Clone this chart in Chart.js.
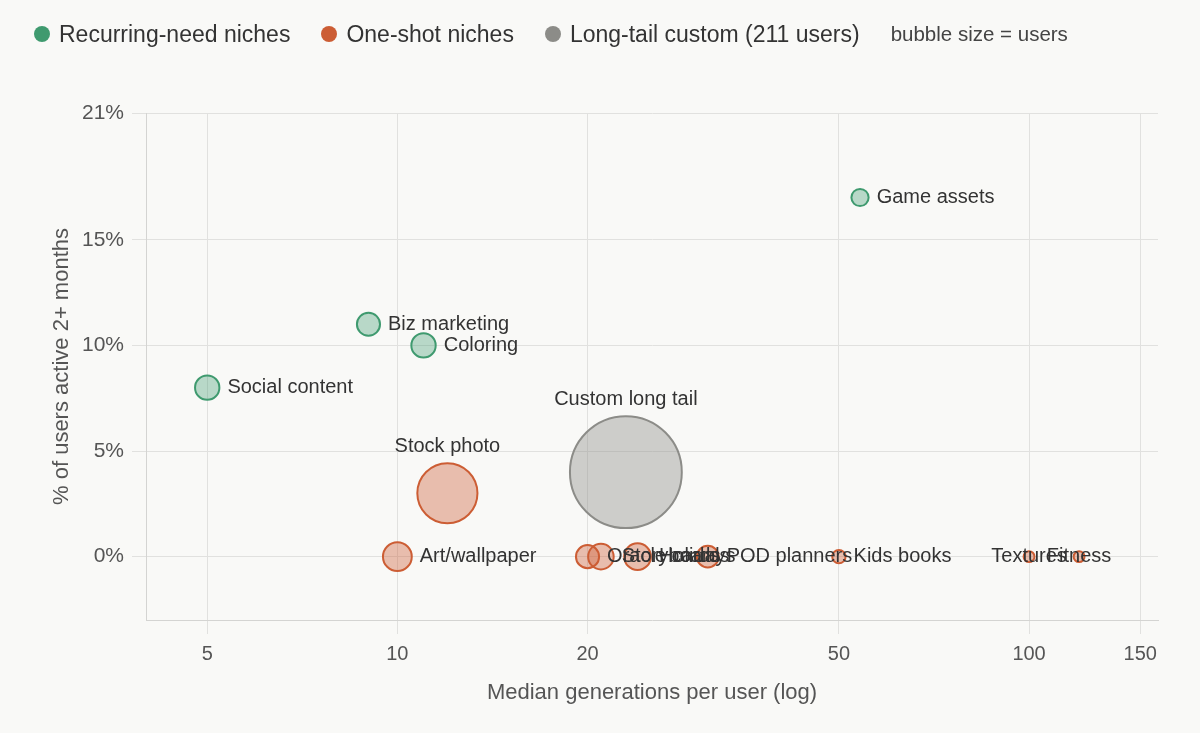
<!DOCTYPE html>
<html><head><meta charset="utf-8">
<script src="https://cdn.jsdelivr.net/npm/chart.js@4.4.1/dist/chart.umd.min.js"></script>
<style>
html,body{margin:0;padding:0;background:#f9f9f7;}
body{width:1200px;height:733px;position:relative;overflow:hidden;font-family:"Liberation Sans",Arial,sans-serif;}
#legend{position:absolute;left:34px;top:0;height:68px;display:flex;align-items:center;gap:31px;color:#333;z-index:2;}
.item{display:flex;align-items:center;font-size:23px;white-space:nowrap;}
.dot{width:16px;height:16px;border-radius:50%;margin-right:9px;}
.note{font-size:20.5px;color:#444;white-space:nowrap;}
#c{position:absolute;left:0;top:0;}
</style></head>
<body>
<div id="legend">
  <div class="item"><span class="dot" style="background:#3f9a6f"></span><span id="l0"></span></div>
  <div class="item"><span class="dot" style="background:#cc5d34"></span><span id="l1"></span></div>
  <div class="item"><span class="dot" style="background:#8c8c88"></span><span id="l2"></span></div>
  <div class="note" id="l3"></div>
</div>
<canvas id="c" width="1200" height="733"></canvas>
<script>
// ---- data ----
const seriesNames = ["Recurring-need niches", "One-shot niches", "Long-tail custom (211 users)"];
const noteText = "bubble size = users";

const recurringNames  = ["Social content", "Biz marketing", "Coloring", "Game assets"];
const recurringGens   = [5, 9, 11, 54];
const recurringActive = [8, 11, 10, 17];
const recurringUsers  = [10, 9, 10, 5];

const oneShotNames  = ["Stock photo", "Art/wallpaper", "Oracle cards", "Storyboards", "Holidays", "POD planners", "Kids books", "Textures", "Fitness"];
const oneShotGens   = [12, 10, 20, 21, 24, 31, 50, 100, 120];
const oneShotActive = [3, 0, 0, 0, 0, 0, 0, 0, 0];
const oneShotUsers  = [61, 14, 9, 11, 12, 8, 3, 2, 2];

const tailNames  = ["Custom long tail"];
const tailGens   = [23];
const tailActive = [4];
const tailUsers  = [211];

const xTickValues = [5, 10, 20, 50, 100, 150];
const yTickValues = [0, 5, 10, 15, 21];

const xTitle = "Median generations per user (log)";
const yTitle = "% of users active 2+ months";

// ---- build ----
document.getElementById('l0').textContent = seriesNames[0];
document.getElementById('l1').textContent = seriesNames[1];
document.getElementById('l2').textContent = seriesNames[2];
document.getElementById('l3').textContent = noteText;

const radiusOf = u => 3.85 * Math.sqrt(u);
function points(names, gens, act, users) {
  return names.map((n, i) => ({ x: gens[i], y: act[i], r: radiusOf(users[i]), label: n }));
}
const FONT = '"Liberation Sans", Arial, sans-serif';

const labelPlugin = {
  id: 'bubbleLabels',
  afterDatasetsDraw(chart) {
    const ctx = chart.ctx;
    ctx.save();
    ctx.font = '20px ' + FONT;
    ctx.fillStyle = '#333';
    chart.data.datasets.forEach((ds, di) => {
      const meta = chart.getDatasetMeta(di);
      meta.data.forEach((el, i) => {
        const raw = ds.data[i];
        const r = el.options.radius;
        if (r > 25) {
          ctx.textAlign = 'center'; ctx.textBaseline = 'middle';
          ctx.fillText(raw.label, el.x, el.y - r - 17);
        } else if (raw.x >= 100) {
          ctx.textAlign = 'center'; ctx.textBaseline = 'middle';
          ctx.fillText(raw.label, el.x, el.y);
        } else {
          ctx.textAlign = 'left'; ctx.textBaseline = 'middle';
          ctx.fillText(raw.label, el.x + r + 8, el.y);
        }
      });
    });
    ctx.restore();
  }
};

new Chart(document.getElementById('c'), {
  type: 'bubble',
  data: {
    datasets: [
      { label: seriesNames[0], data: points(recurringNames, recurringGens, recurringActive, recurringUsers),
        backgroundColor: 'rgba(63,154,111,0.35)', borderColor: '#3f9a6f', borderWidth: 2 },
      { label: seriesNames[1], data: points(oneShotNames, oneShotGens, oneShotActive, oneShotUsers),
        backgroundColor: 'rgba(204,93,52,0.38)', borderColor: '#cc5d34', borderWidth: 2 },
      { label: seriesNames[2], data: points(tailNames, tailGens, tailActive, tailUsers),
        backgroundColor: 'rgba(140,140,136,0.4)', borderColor: '#8c8c88', borderWidth: 2 }
    ]
  },
  options: {
    responsive: false,
    animation: false,
    devicePixelRatio: 1,
    layout: { autoPadding: false, padding: { top: 113, right: 42, bottom: 0, left: 0 } },
    plugins: { legend: { display: false }, tooltip: { enabled: false } },
    scales: {
      x: {
        type: 'logarithmic', min: 4, max: 160,
        afterBuildTicks: s => { s.ticks = xTickValues.map(v => ({ value: v })); },
        afterFit: s => { s.height = 113; s.paddingLeft = 0; s.paddingRight = 0; },
        grid: { color: '#e1e1df', tickLength: 14 },
        border: { color: '#d4d4d2' },
        ticks: { color: '#555', font: { size: 20, family: FONT }, padding: 8, maxRotation: 0, autoSkip: false,
                 callback: v => String(v) },
        title: { display: true, text: xTitle, color: '#555', font: { size: 22, family: FONT }, padding: { top: 0, bottom: 27 } }
      },
      y: {
        type: 'linear', min: -3, max: 21,
        afterBuildTicks: s => { s.ticks = yTickValues.map(v => ({ value: v })); },
        afterFit: s => { s.width = 146; },
        grid: { color: '#e1e1df', tickLength: 14 },
        border: { color: '#d4d4d2' },
        ticks: { color: '#555', font: { size: 21, family: FONT }, padding: 8, callback: v => v + '%' },
        title: { display: true, text: yTitle, color: '#555', font: { size: 22, family: FONT }, padding: { top: 49, bottom: 0 } }
      }
    }
  },
  plugins: [labelPlugin]
});
</script>
</body></html>
